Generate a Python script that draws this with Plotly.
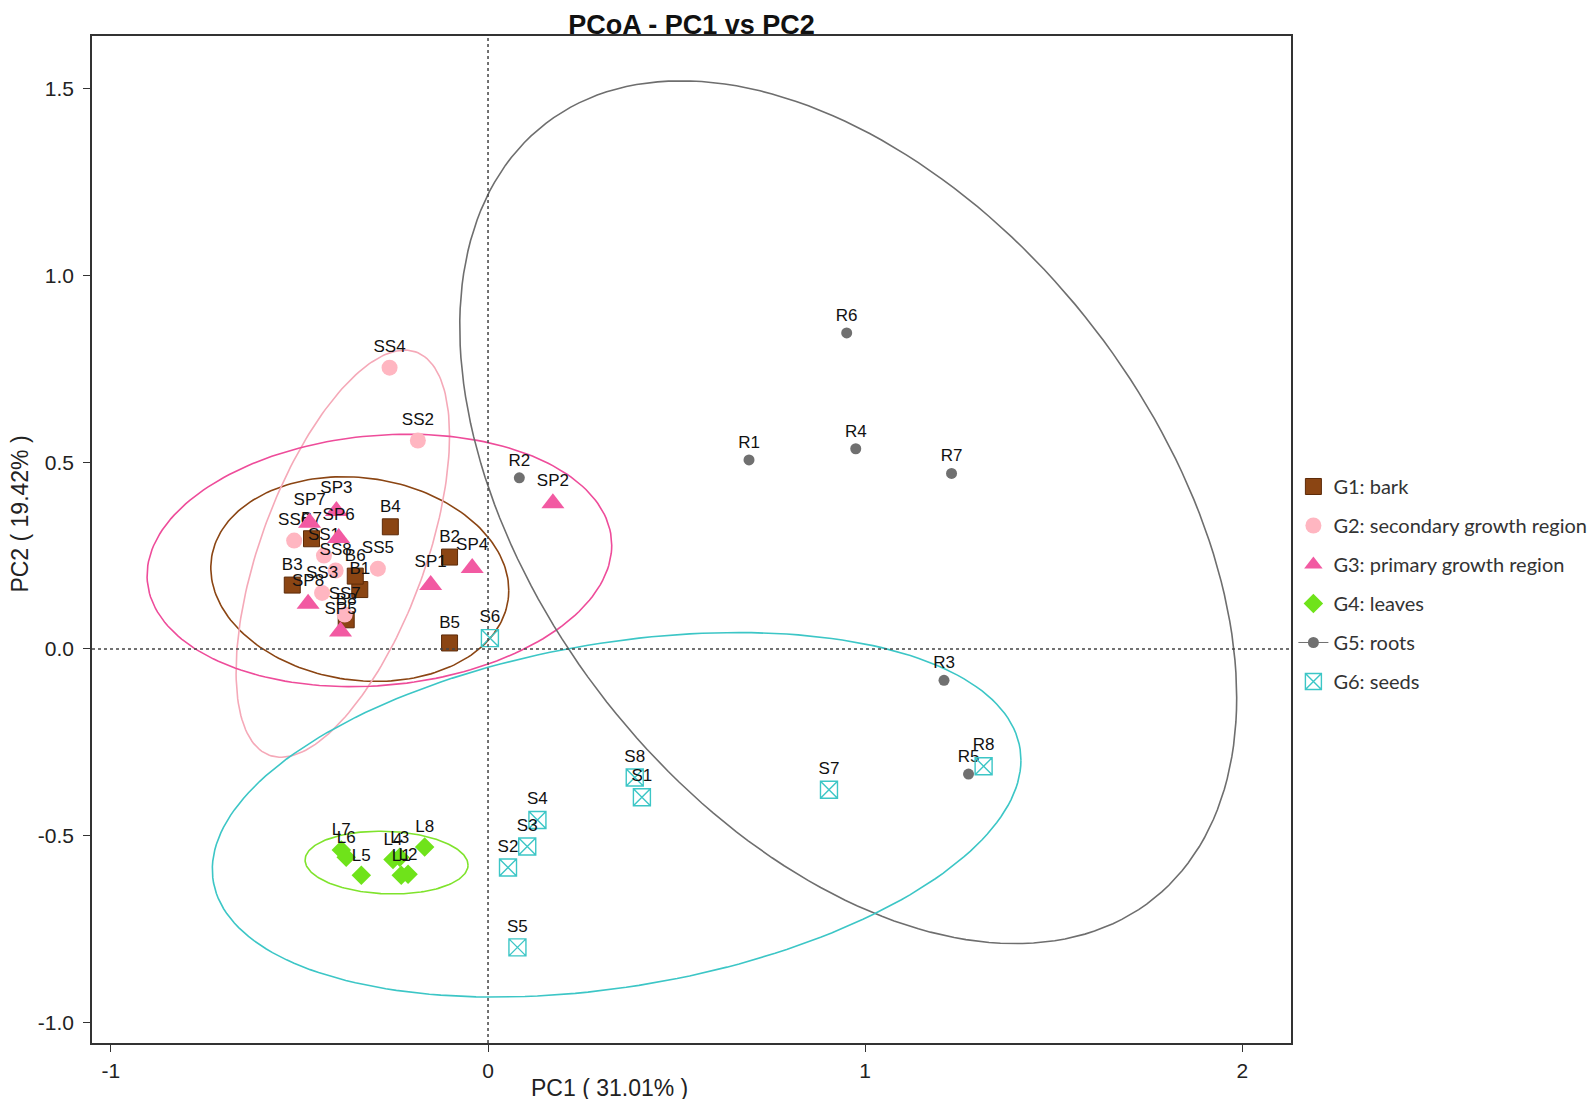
import numpy as np
import plotly.graph_objects as go

# sample scores (PC1, PC2)
bark_lbl = ["B1", "B2", "B3", "B4", "B5", "B6", "B7", "B8"]
bark_x = [-0.340, -0.102, -0.519, -0.259, -0.102, -0.352, -0.468, -0.376]
bark_y = [0.159, 0.246, 0.171, 0.327, 0.016, 0.195, 0.295, 0.078]

sec_lbl = ["SS1", "SS2", "SS3", "SS4", "SS5", "SS6", "SS7", "SS8"]
sec_x = [-0.435, -0.186, -0.440, -0.261, -0.292, -0.514, -0.380, -0.404]
sec_y = [0.250, 0.558, 0.150, 0.753, 0.215, 0.290, 0.092, 0.210]

prim_lbl = ["SP1", "SP2", "SP3", "SP4", "SP5", "SP6", "SP7", "SP8"]
prim_x = [-0.152, 0.172, -0.402, -0.042, -0.391, -0.396, -0.473, -0.477]
prim_y = [0.171, 0.390, 0.369, 0.217, 0.047, 0.297, 0.338, 0.121]

leaf_lbl = ["L1", "L2", "L3", "L4", "L5", "L6", "L7", "L8"]
leaf_x = [-0.230, -0.212, -0.234, -0.252, -0.336, -0.376, -0.389, -0.168]
leaf_y = [-0.606, -0.603, -0.558, -0.564, -0.606, -0.558, -0.538, -0.530]

root_lbl = ["R1", "R2", "R3", "R4", "R5", "R6", "R7"]
root_x = [0.692, 0.083, 1.209, 0.975, 1.274, 0.951, 1.229]
root_y = [0.506, 0.458, -0.084, 0.536, -0.335, 0.846, 0.470]

seed_lbl = ["S1", "S2", "S3", "S4", "S5", "S6", "S7", "S8", "R8"]
seed_x = [0.408, 0.053, 0.104, 0.131, 0.078, 0.005, 0.904, 0.389, 1.314]
seed_y = [-0.397, -0.585, -0.529, -0.458, -0.799, 0.029, -0.377, -0.344, -0.314]

# group ellipses: centre, half width, half height, correlation
ell_cx = [-0.340, -0.385, -0.288, -0.269, 0.955, 0.341]
ell_cy = [0.187, 0.255, 0.237, -0.572, 0.366, -0.444]
ell_rx = [0.395, 0.283, 0.616, 0.216, 1.030, 1.072]
ell_ry = [0.274, 0.545, 0.338, 0.084, 1.155, 0.488]
ell_rho = [-0.11, 0.58, 0.12, -0.08, -0.43, 0.30]
ell_col = ["#8B4513", "#F5A9B8", "#EE4C9A", "#7FE32C", "#6E6E6E", "#3CC6C6"]

groups = ["G1: bark", "G2: secondary growth region", "G3: primary growth region",
          "G4: leaves", "G5: roots", "G6: seeds"]

x_ticks = [-1, 0, 1, 2]
y_ticks = [-1.0, -0.5, 0.0, 0.5, 1.0, 1.5]

fig = go.Figure()

t = np.linspace(0, 2 * np.pi, 200)
for cx, cy, rx, ry, rho, col in zip(ell_cx, ell_cy, ell_rx, ell_ry, ell_rho, ell_col):
    ex = cx + rx * np.cos(t)
    ey = cy + ry * (rho * np.cos(t) + np.sqrt(1 - rho ** 2) * np.sin(t))
    fig.add_trace(go.Scatter(x=ex, y=ey, mode="lines", line=dict(color=col, width=1.6),
                             hoverinfo="skip", showlegend=False))

lab_font = dict(family="Liberation Sans, Arial", size=17, color="#111111")

styles = [
    (bark_x, bark_y, bark_lbl, dict(symbol="square", size=16, color="#8B4513",
                                     line=dict(color="#5C2A08", width=1))),
    (sec_x, sec_y, sec_lbl, dict(symbol="circle", size=16, color="#FFB6C1",
                                  line=dict(width=0))),
    (prim_x, prim_y, prim_lbl, dict(symbol="triangle-up", size=20, color="#F25AA2",
                                     line=dict(width=0))),
    (leaf_x, leaf_y, leaf_lbl, dict(symbol="diamond", size=15, color="#6FE31A",
                                     line=dict(width=0))),
    (root_x, root_y, root_lbl, dict(symbol="circle", size=11, color="#707070",
                                     line=dict(width=0))),
    (seed_x, seed_y, seed_lbl, dict(symbol="square-x-open", size=17, color="#3CC6C6",
                                     line=dict(width=1.4))),
]

for xs, ys, lbl, mk in styles:
    fig.add_trace(go.Scatter(x=xs, y=ys, mode="markers+text", text=lbl,
                             textposition="top center", textfont=lab_font,
                             marker=mk, showlegend=False))

# legend entries
for i, (name, (_, _, _, mk)) in enumerate(zip(groups, styles)):
    mode = "markers"
    line = None
    if i == 4:
        mode = "lines+markers"
        line = dict(color="#707070", width=1)
    fig.add_trace(go.Scatter(x=[None], y=[None], mode=mode, name=name, marker=dict(mk),
                             line=line, legendgroup=name))

fig.add_hline(y=0, line=dict(color="#444444", width=1.5, dash="dot"))
fig.add_vline(x=0, line=dict(color="#444444", width=1.5, dash="dot"))

axis_common = dict(showline=True, linecolor="#333333", linewidth=1.5, mirror=True,
                   ticks="outside", ticklen=7, tickcolor="#333333", showgrid=False,
                   zeroline=False, tickfont=dict(family="Liberation Sans, Arial", size=21,
                                                 color="#222222"))

fig.update_xaxes(range=[-1.050, 2.129], tickvals=x_ticks,
                 ticktext=[str(v) for v in x_ticks], ticklabelstandoff=1, **axis_common)
fig.update_yaxes(range=[-1.055, 1.641], tickvals=y_ticks,
                 ticktext=["%.1f" % v for v in y_ticks], ticklabelstandoff=5, **axis_common)

fig.add_annotation(text="PC1 ( 31.01% )", xref="paper", yref="paper", x=0.432, y=-0.0445,
                   showarrow=False, xanchor="center", yanchor="middle",
                   font=dict(family="Liberation Sans, Arial", size=23, color="#222222"))
fig.add_annotation(text="PC2 ( 19.42% )", xref="paper", yref="paper", x=-0.0598, y=0.525,
                   showarrow=False, xanchor="center", yanchor="middle", textangle=-90,
                   font=dict(family="Liberation Sans, Arial", size=23, color="#222222"))

fig.update_layout(
    width=1595, height=1099,
    margin=dict(l=84, r=312, t=28, b=64, autoexpand=False),
    paper_bgcolor="white", plot_bgcolor="white",
    title=dict(text="<b>PCoA - PC1 vs PC2</b>", xref="paper", x=0.5, xanchor="center",
               yref="container", y=0.9845, yanchor="middle",
               font=dict(family="Liberation Sans, Arial", size=27, color="#111111")),
    legend=dict(x=1.002, xanchor="left", y=0.572, yanchor="top", tracegroupgap=10,
                font=dict(family="Lato, Open Sans", size=20, color="#333333"),
                bgcolor="rgba(0,0,0,0)"),
)

fig.write_html("out.html")
